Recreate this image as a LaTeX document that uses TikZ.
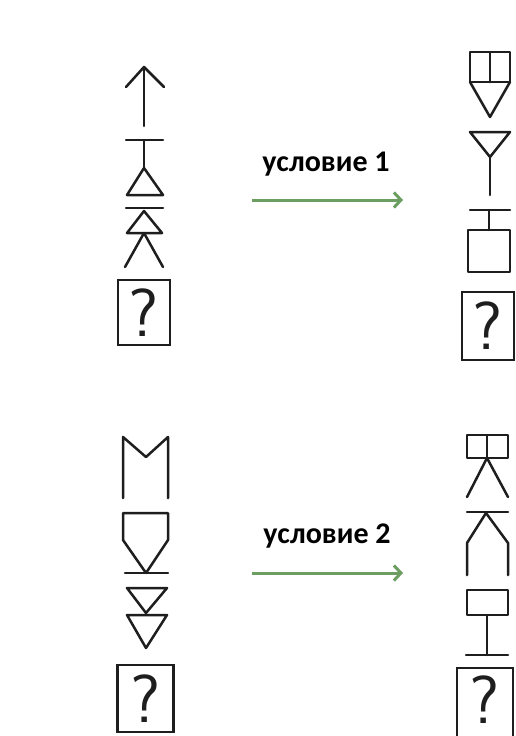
\documentclass[tikz,border=0pt]{standalone}
\usepackage{fontspec}
\newfontfamily\condfont{Carlito}
\usetikzlibrary{arrows.meta}
\definecolor{symcol}{RGB}{30,30,30}
\definecolor{arrgreen}{RGB}{108,158,98}
\begin{document}
\begin{tikzpicture}[x=1pt,y=-1pt,
  sym/.style={draw=symcol,line width=2.5pt,line cap=round,line join=round},
  qbox/.style={draw=symcol,line width=2.5pt,inner sep=0pt},
  qmark/.style={inner sep=0pt,font=\sffamily\fontsize{68}{68}\selectfont,text=symcol},
  cond/.style={font=\condfont\bfseries\fontsize{30}{30}\selectfont,text=black,inner sep=0pt},
  condarrow/.style={draw=arrgreen,line width=3pt,-{Straight Barb[length=7pt,width=15pt,line width=3pt]}}]
\useasboundingbox[fill=white] (0,0) rectangle (516,736);

% ---------- top-left column ----------
\draw[sym] (144,126) -- (144,67);
\draw[sym] (126,87) -- (144,67) -- (164,87);
\draw[sym] (126,140) -- (163,140);
\draw[sym] (144,140) -- (144,168);
\draw[sym] (144,168) -- (127,195) -- (163,195) -- cycle;
\draw[sym] (126,208) -- (163,208);
\draw[sym] (144,211) -- (127,233) -- (162,233) -- cycle;
\draw[sym] (125,267) -- (144,233) -- (163,267);
\node[qbox,minimum width=52pt,minimum height=65pt] (q1) at (144,312.5) {};
\node[qmark] (m1) at (q1.center) {?};

% ---------- top-right column ----------
\draw[sym] (470,52) rectangle (510,82);
\draw[sym] (490,52) -- (490,82);
\draw[sym] (470,82) -- (490,117) -- (510,82);
\draw[sym] (470,132) -- (510,132) -- (490,157) -- cycle;
\draw[sym] (490,157) -- (490,195);
\draw[sym] (470,210) -- (510,210);
\draw[sym] (489,210) -- (489,230);
\draw[sym] (468,230) rectangle (510,272);
\node[qbox,minimum width=52pt,minimum height=68pt] (q2) at (488,326) {};
\node[qmark] (m2) at (q2.center) {?};

% ---------- bottom-left column ----------
\draw[sym] (123,498) -- (123,437) -- (146,457) -- (168,437) -- (168,498);
\draw[sym] (123,513) -- (168,513) -- (168,540) -- (146,573) -- (123,540) -- cycle;
\draw[sym] (125,573) -- (168,573);
\draw[sym] (127,588) -- (167,588) -- (146,613) -- cycle;
\draw[sym] (127,615) -- (167,615) -- (146,648) -- cycle;
\node[qbox,minimum width=56pt,minimum height=67pt] (q3) at (145.5,698.5) {};
\node[qmark] (m3) at (145.5,699) {?};

% ---------- bottom-right column ----------
\draw[sym] (467,435) rectangle (508,458);
\draw[sym] (487,435) -- (487,458);
\draw[sym] (467,497) -- (487,458) -- (508,497);
\draw[sym] (467,512) -- (508,512);
\draw[sym] (467,575) -- (467,543) -- (486,513) -- (508,543) -- (508,575);
\draw[sym] (467,590) rectangle (508,615);
\draw[sym] (487,615) -- (487,655);
\draw[sym] (466,655) -- (508,655);
\node[qbox,minimum width=56pt,minimum height=76pt] (q4) at (485,706) {};
\node[qmark] (m4) at (485,700) {?};

% ---------- conditions ----------
\node[cond,anchor=base] (c1) at (326,171) {условие 1};
\coordinate (a1s) at (252,200);
\coordinate (a1e) at (403,200);
\draw[condarrow] (a1s) -- (a1e);

\node[cond,anchor=base] (c2) at (327,543) {условие 2};
\coordinate (a2s) at (252,573);
\coordinate (a2e) at (403,573);
\draw[condarrow] (a2s) -- (a2e);
\end{tikzpicture}
\end{document}
